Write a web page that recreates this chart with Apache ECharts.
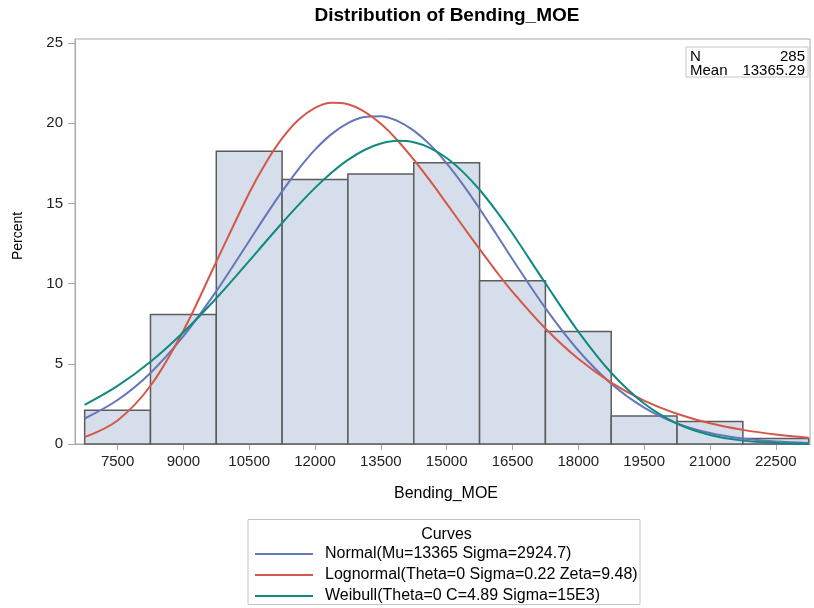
<!DOCTYPE html>
<html><head><meta charset="utf-8">
<script src="https://cdn.jsdelivr.net/npm/echarts@6/dist/echarts.min.js"></script>
<style>html,body{margin:0;padding:0;background:#fff}#c{width:814px;height:608px}</style>
</head><body><div id="c"></div>
<script>
// ---- data ----
const binCenters = [7500, 9000, 10500, 12000, 13500, 15000, 16500, 18000, 19500, 21000, 22500];
const binPercents = [2.11, 8.07, 18.25, 16.49, 16.84, 17.54, 10.18, 7.02, 1.75, 1.40, 0.35];
const binWidth = 1500;
const xTicks = [7500, 9000, 10500, 12000, 13500, 15000, 16500, 18000, 19500, 21000, 22500];
const yTicks = [0, 5, 10, 15, 20, 25];
const curveX = [6750, 7500, 8250, 9000, 9750, 10500, 10875, 11250, 11625, 12000, 12375, 12750,
  13125, 13500, 13875, 14250, 14625, 15000, 15375, 15750, 16125, 16500, 17250, 18000, 18750,
  19500, 20250, 21000, 21750, 22500, 23250];
const normalPct = [1.59, 2.74, 4.43, 6.72, 9.53, 12.66, 14.24, 15.75, 17.14, 18.35, 19.32, 20.01,
  20.39, 20.44, 20.15, 19.54, 18.65, 17.50, 16.16, 14.67, 13.11, 11.52, 8.47, 5.83, 3.76,
  2.27, 1.28, 0.68, 0.34, 0.16, 0.07];
const lognormalPct = [0.43, 1.47, 3.63, 7.07, 11.36, 15.65, 17.51, 19.05, 20.21, 20.95, 21.27, 21.18,
  20.72, 19.96, 18.94, 17.73, 16.40, 14.99, 13.56, 12.15, 10.78, 9.49, 7.20, 5.31, 3.83,
  2.71, 1.89, 1.29, 0.88, 0.59, 0.39];
const weibullPct = [2.44, 3.62, 5.13, 6.97, 9.09, 11.42, 12.61, 13.78, 14.91, 15.97, 16.91, 17.71,
  18.33, 18.73, 18.90, 18.81, 18.45, 17.83, 16.95, 15.85, 14.55, 13.12, 10.02, 7.01, 4.44,
  2.52, 1.27, 0.56, 0.21, 0.07, 0.02];
const curveNames = ['Normal(Mu=13365 Sigma=2924.7)', 'Lognormal(Theta=0 Sigma=0.22 Zeta=9.48)', 'Weibull(Theta=0 C=4.89 Sigma=15E3)'];
const statLabels = ['N', 'Mean'];
const statValues = ['285', '13365.29'];
const titleText = 'Distribution of Bending_MOE';
const xName = 'Bending_MOE';
const yName = 'Percent';
const legendTitle = 'Curves';

// ---- chart ----
const FONT = 'Liberation Sans, Arial, sans-serif';
const colors = ['#6676bb', '#d4574a', '#0f8a80'];
const chart = echarts.init(document.getElementById('c'), null, {renderer: 'canvas'});
const pairs = (xs, ys) => xs.map((x, i) => [x, ys[i]]);

const lineSeries = (i, ys) => ({
  type: 'line', name: curveNames[i], data: pairs(curveX, ys), smooth: 0.35,
  showSymbol: false, symbol: 'none', z: 3,
  lineStyle: {color: colors[i], width: 2}, itemStyle: {color: colors[i]}
});

const option = {
  animation: false,
  backgroundColor: '#fff',
  title: {
    text: titleText, left: 447, top: 6, textAlign: 'center', padding: 0,
    textStyle: {fontFamily: FONT, fontSize: 19, fontWeight: 'bold', color: '#000'}
  },
  grid: {left: 75, right: 4, top: 39, bottom: 164, show: true, borderColor: '#a8a8a8', borderWidth: 1, containLabel: false},
  xAxis: {
    type: 'value', min: 6530, max: 23280,
    axisLine: {show: true, lineStyle: {color: '#a8a8a8'}},
    axisTick: {show: true, length: 6, customValues: xTicks, lineStyle: {color: '#a8a8a8'}},
    axisLabel: {customValues: xTicks, margin: 10, fontFamily: FONT, fontSize: 15, color: '#222',
      formatter: v => String(v)},
    splitLine: {show: false}
  },
  yAxis: {
    type: 'value', min: 0, max: 25.25,
    axisLine: {show: true, lineStyle: {color: '#a8a8a8'}},
    axisTick: {show: true, length: 7, customValues: yTicks, lineStyle: {color: '#a8a8a8'}},
    axisLabel: {customValues: yTicks, margin: 12, fontFamily: FONT, fontSize: 15, color: '#222',
      formatter: v => String(v)},
    splitLine: {show: false}
  },
  legend: {
    orient: 'vertical', left: 255, top: 544, height: 70, padding: 0,
    icon: 'rect', itemWidth: 58, itemHeight: 2, itemGap: 1,
    data: curveNames,
    textStyle: {fontFamily: FONT, fontSize: 16, color: '#000', lineHeight: 20, padding: [0, 0, 0, 7]}
  },
  graphic: [
    {type: 'text', x: 18, y: 236, rotation: Math.PI / 2, style: {text: yName, font: '14px ' + FONT, fill: '#000', align: 'center', verticalAlign: 'middle'}},
    {type: 'text', x: 446, y: 494, style: {text: xName, font: '16px ' + FONT, fill: '#000', align: 'center', verticalAlign: 'middle'}},
    {type: 'rect', shape: {x: 686, y: 47, width: 122, height: 30}, style: {fill: '#fff', stroke: '#c4c4c4', lineWidth: 1}, z: 10},
    {type: 'text', x: 690, y: 57, z: 11, style: {text: statLabels[0], font: '15px ' + FONT, fill: '#000', align: 'left', verticalAlign: 'middle'}},
    {type: 'text', x: 805, y: 57, z: 11, style: {text: statValues[0], font: '15px ' + FONT, fill: '#000', align: 'right', verticalAlign: 'middle'}},
    {type: 'text', x: 690, y: 70.5, z: 11, style: {text: statLabels[1], font: '15px ' + FONT, fill: '#000', align: 'left', verticalAlign: 'middle'}},
    {type: 'text', x: 805, y: 70.5, z: 11, style: {text: statValues[1], font: '15px ' + FONT, fill: '#000', align: 'right', verticalAlign: 'middle'}},
    {type: 'rect', shape: {x: 248, y: 519.5, width: 392, height: 85}, style: {fill: 'none', stroke: '#c4c4c4', lineWidth: 1}},
    {type: 'text', x: 446.5, y: 535, style: {text: legendTitle, font: '16px ' + FONT, fill: '#000', align: 'center', verticalAlign: 'middle'}}
  ],
  series: [
    {
      type: 'custom', name: 'bins', z: 1,
      data: pairs(binCenters, binPercents),
      encode: {x: 0, y: 1},
      renderItem: function (params, api) {
        const c = api.value(0), v = api.value(1);
        const p0 = api.coord([c - binWidth / 2, 0]);
        const p1 = api.coord([c + binWidth / 2, v]);
        return {
          type: 'rect',
          shape: {x: p0[0], y: p1[1], width: p1[0] - p0[0], height: p0[1] - p1[1]},
          style: {fill: '#d5deea', stroke: '#5c5c5c', lineWidth: 1.5}
        };
      }
    },
    lineSeries(0, normalPct),
    lineSeries(1, lognormalPct),
    lineSeries(2, weibullPct)
  ]
};
chart.setOption(option);
</script>
</body></html>
